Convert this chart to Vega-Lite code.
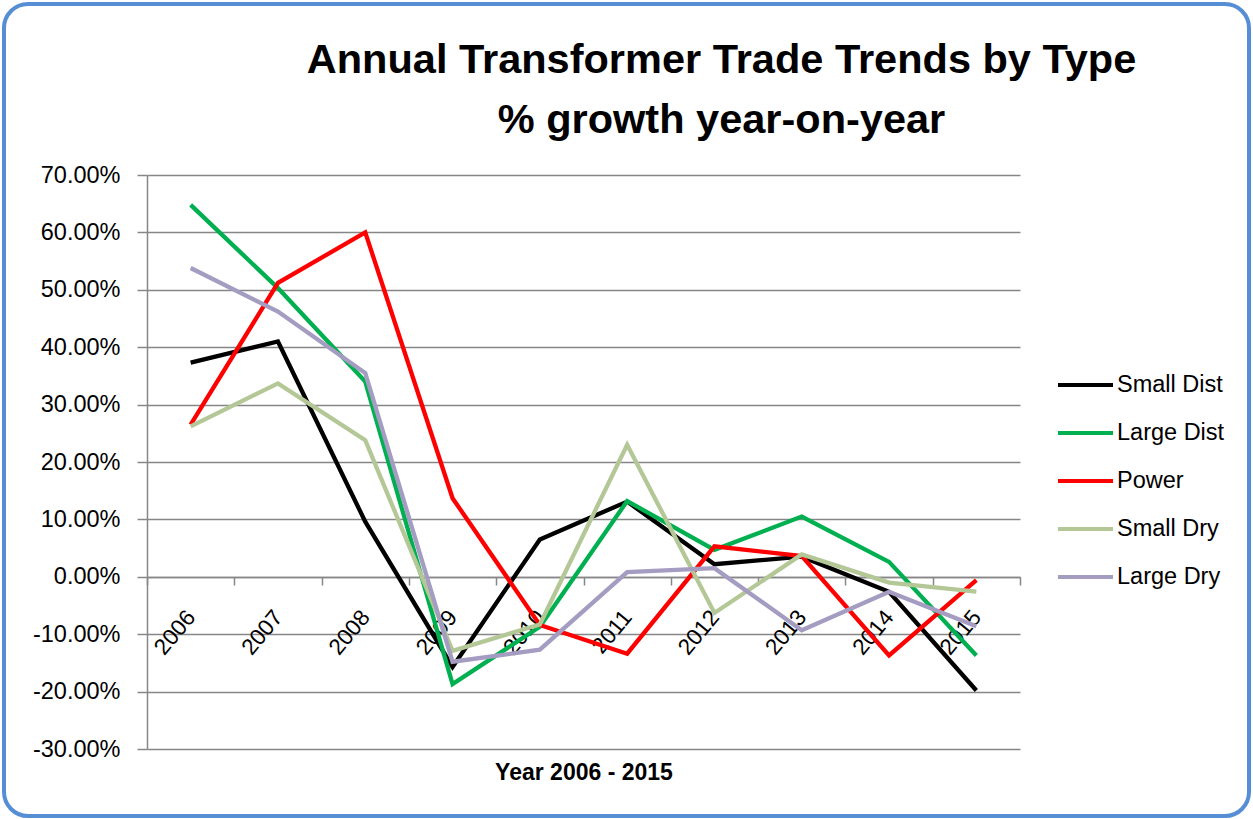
{
  "$schema": "https://vega.github.io/schema/vega-lite/v6.json",
  "autosize": "none",
  "width": 1245,
  "height": 812,
  "padding": {"left": 4, "top": 4, "right": 4, "bottom": 3},
  "background": "white",
  "title": {
    "text": ["Annual Transformer Trade Trends by Type", "% growth year-on-year"],
    "font": "Liberation Sans",
    "fontSize": 41.5,
    "fontWeight": "bold",
    "color": "#000000",
    "anchor": "middle",
    "frame": "group",
    "lineHeight": 60,
    "dx": 95,
    "offset": -137
  },
  "data": {
    "values": [
      {"year": "2006", "type": "Small Dist", "value": 0.373},
      {"year": "2007", "type": "Small Dist", "value": 0.410},
      {"year": "2008", "type": "Small Dist", "value": 0.096},
      {"year": "2009", "type": "Small Dist", "value": -0.157},
      {"year": "2010", "type": "Small Dist", "value": 0.065},
      {"year": "2011", "type": "Small Dist", "value": 0.131},
      {"year": "2012", "type": "Small Dist", "value": 0.022},
      {"year": "2013", "type": "Small Dist", "value": 0.035},
      {"year": "2014", "type": "Small Dist", "value": -0.026},
      {"year": "2015", "type": "Small Dist", "value": -0.198},
      {"year": "2006", "type": "Large Dist", "value": 0.648},
      {"year": "2007", "type": "Large Dist", "value": 0.503},
      {"year": "2008", "type": "Large Dist", "value": 0.340},
      {"year": "2009", "type": "Large Dist", "value": -0.187},
      {"year": "2010", "type": "Large Dist", "value": -0.087},
      {"year": "2011", "type": "Large Dist", "value": 0.132},
      {"year": "2012", "type": "Large Dist", "value": 0.047},
      {"year": "2013", "type": "Large Dist", "value": 0.105},
      {"year": "2014", "type": "Large Dist", "value": 0.026},
      {"year": "2015", "type": "Large Dist", "value": -0.137},
      {"year": "2006", "type": "Power", "value": 0.265},
      {"year": "2007", "type": "Power", "value": 0.512},
      {"year": "2008", "type": "Power", "value": 0.600},
      {"year": "2009", "type": "Power", "value": 0.137},
      {"year": "2010", "type": "Power", "value": -0.084},
      {"year": "2011", "type": "Power", "value": -0.134},
      {"year": "2012", "type": "Power", "value": 0.053},
      {"year": "2013", "type": "Power", "value": 0.036},
      {"year": "2014", "type": "Power", "value": -0.137},
      {"year": "2015", "type": "Power", "value": -0.006},
      {"year": "2006", "type": "Small Dry", "value": 0.262},
      {"year": "2007", "type": "Small Dry", "value": 0.337},
      {"year": "2008", "type": "Small Dry", "value": 0.238},
      {"year": "2009", "type": "Small Dry", "value": -0.129},
      {"year": "2010", "type": "Small Dry", "value": -0.083},
      {"year": "2011", "type": "Small Dry", "value": 0.230},
      {"year": "2012", "type": "Small Dry", "value": -0.063},
      {"year": "2013", "type": "Small Dry", "value": 0.039},
      {"year": "2014", "type": "Small Dry", "value": -0.010},
      {"year": "2015", "type": "Small Dry", "value": -0.026},
      {"year": "2006", "type": "Large Dry", "value": 0.538},
      {"year": "2007", "type": "Large Dry", "value": 0.462},
      {"year": "2008", "type": "Large Dry", "value": 0.355},
      {"year": "2009", "type": "Large Dry", "value": -0.148},
      {"year": "2010", "type": "Large Dry", "value": -0.127},
      {"year": "2011", "type": "Large Dry", "value": 0.008},
      {"year": "2012", "type": "Large Dry", "value": 0.015},
      {"year": "2013", "type": "Large Dry", "value": -0.093},
      {"year": "2014", "type": "Large Dry", "value": -0.026},
      {"year": "2015", "type": "Large Dry", "value": -0.086}
    ]
  },
  "mark": {"type": "line", "strokeWidth": 4.3, "strokeJoin": "miter", "strokeCap": "butt"},
  "encoding": {
    "x": {
      "field": "year",
      "type": "ordinal",
      "bandPosition": 0.5,
      "scale": {"type": "band", "paddingInner": 0, "paddingOuter": 0, "range": [143, 1016]},
      "axis": {
        "orient": "bottom",
        "offset": -239,
        "tickBand": "extent",
        "tickSize": 8,
        "labelAngle": -50,
        "labelAlign": "right",
        "labelBaseline": "middle",
        "labelPadding": 28,
        "labelFontSize": 22.5,
        "labelOverlap": false,
        "grid": false,
        "title": "Year 2006 - 2015",
        "titleFontSize": 23,
        "titleFontWeight": "bold",
        "titleY": 195,
        "titleBaseline": "middle"
      }
    },
    "y": {
      "field": "value",
      "type": "quantitative",
      "scale": {"domain": [-0.3, 0.7], "nice": false, "zero": false, "range": [745, 171]},
      "axis": {
        "orient": "left",
        "offset": -143,
        "values": [-0.3, -0.2, -0.1, 0, 0.1, 0.2, 0.3, 0.4, 0.5, 0.6, 0.7],
        "labelExpr": "replace(format(datum.value, '.2%'), '\u2212', '-')",
        "tickSize": 10,
        "labelPadding": 17,
        "labelFontSize": 23.5,
        "grid": true,
        "title": null
      }
    },
    "color": {
      "field": "type",
      "type": "nominal",
      "sort": ["Small Dist", "Large Dist", "Power", "Small Dry", "Large Dry"],
      "scale": {
        "domain": ["Small Dist", "Large Dist", "Power", "Small Dry", "Large Dry"],
        "range": ["#000000", "#00B050", "#FF0000", "#B4C897", "#A49CC1"]
      },
      "legend": {
        "orient": "none",
        "legendX": 1052,
        "legendY": 357,
        "title": null,
        "symbolType": "stroke",
        "symbolSize": 3025,
        "symbolStrokeWidth": 4,
        "clipHeight": 48,
        "rowPadding": 0,
        "labelFontSize": 23.5,
        "labelOffset": 2,
        "labelColor": "#000000",
        "padding": 0
      }
    }
  },
  "config": {
    "font": "Liberation Sans",
    "view": {"stroke": "#558ED5", "strokeWidth": 4, "cornerRadius": 24, "fill": "white"},
    "axis": {
      "labelColor": "#000000",
      "titleColor": "#000000",
      "domainColor": "#868686",
      "domainWidth": 1.5,
      "tickColor": "#868686",
      "tickWidth": 1.5,
      "gridColor": "#868686",
      "gridWidth": 1.5,
      "gridOpacity": 1
    }
  }
}
